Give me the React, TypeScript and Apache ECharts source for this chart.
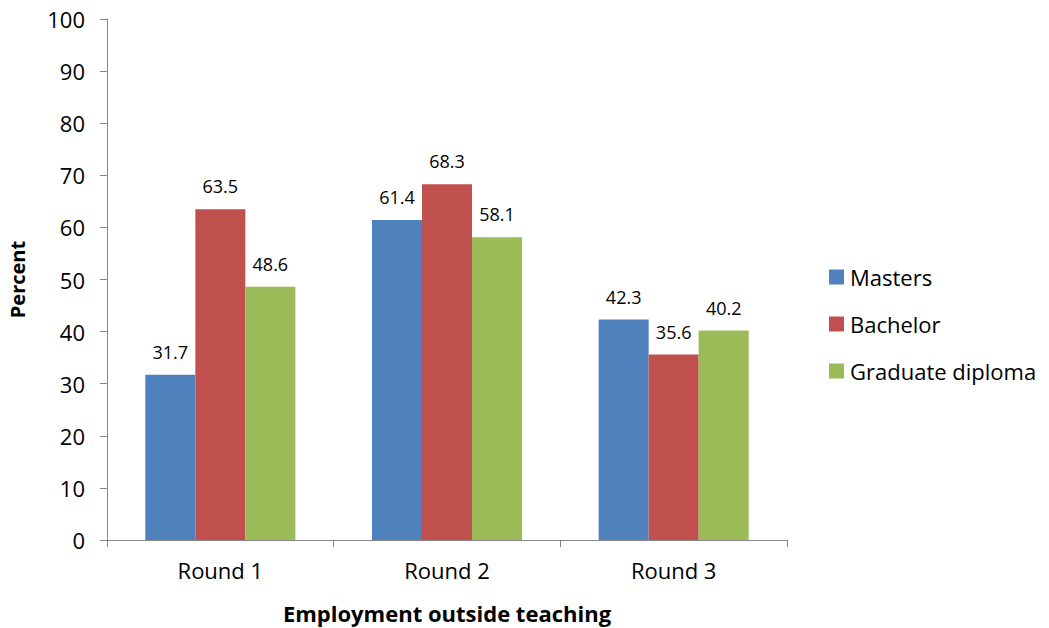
import React, { useEffect, useRef } from "react";
import * as echarts from "echarts";

const categories = ["Round 1", "Round 2", "Round 3"];
const masters = [31.7, 61.4, 42.3];
const bachelor = [63.5, 68.3, 35.6];
const graduateDiploma = [48.6, 58.1, 40.2];
const seriesNames = ["Masters", "Bachelor", "Graduate diploma"];
const colors = ["#4F81BD", "#C0504D", "#9BBB59"];

const FONT = "'Open Sans', 'Noto Sans', sans-serif";
const AXIS_COLOR = "#868686";

export default function App() {
  const ref = useRef<HTMLDivElement>(null);

  useEffect(() => {
    if (!ref.current) return;
    const chart = echarts.init(ref.current, undefined, { renderer: "svg" });
    const values = [masters, bachelor, graduateDiploma];
    chart.setOption({
      animation: false,
      backgroundColor: "#ffffff",
      textStyle: { fontFamily: FONT },
      grid: {
        left: 107,
        right: 262,
        top: 19,
        bottom: 88,
        containLabel: false,
        outerBoundsMode: "none",
      },
      legend: {
        orient: "vertical",
        left: 824,
        top: 261,
        itemWidth: 15,
        itemHeight: 15,
        itemGap: 25,
        icon: "rect",
        data: seriesNames,
        textStyle: { fontFamily: FONT, fontSize: 22, color: "#000", padding: [0, 0, 0, 1] },
      },
      xAxis: {
        type: "category",
        data: categories,
        name: "Employment outside teaching",
        nameLocation: "middle",
        nameGap: 62,
        nameTextStyle: { fontFamily: FONT, fontSize: 22, fontWeight: "bold", color: "#000" },
        axisLine: { lineStyle: { color: AXIS_COLOR, width: 1 } },
        axisTick: { show: true, alignWithLabel: false, length: 7, lineStyle: { color: AXIS_COLOR } },
        axisLabel: { fontFamily: FONT, fontSize: 22, color: "#000", margin: 19 },
      },
      yAxis: {
        type: "value",
        min: 0,
        max: 100,
        interval: 10,
        name: "Percent",
        nameLocation: "middle",
        nameGap: 80,
        nameRotate: 90,
        nameTextStyle: { fontFamily: FONT, fontSize: 20, fontWeight: "bold", color: "#000" },
        axisLine: { show: true, lineStyle: { color: AXIS_COLOR, width: 1 } },
        axisTick: { show: true, length: 7, lineStyle: { color: AXIS_COLOR } },
        splitLine: { show: false },
        axisLabel: { fontFamily: FONT, fontSize: 22, color: "#000", margin: 22 },
      },
      series: seriesNames.map((name, i) => ({
        name,
        type: "bar",
        data: values[i],
        itemStyle: { color: colors[i] },
        barGap: "0%",
        barCategoryGap: "33.8%",
        label: {
          show: true,
          position: "top",
          distance: 14,
          fontFamily: FONT,
          fontSize: 18,
          color: "#000",
          formatter: (p: any) => Number(p.value).toFixed(1),
        },
      })),
    });
    return () => chart.dispose();
  }, []);

  return (
    <div
      ref={ref}
      style={{ position: "absolute", left: 0, top: 0, width: 1049, height: 628 }}
    />
  );
}
